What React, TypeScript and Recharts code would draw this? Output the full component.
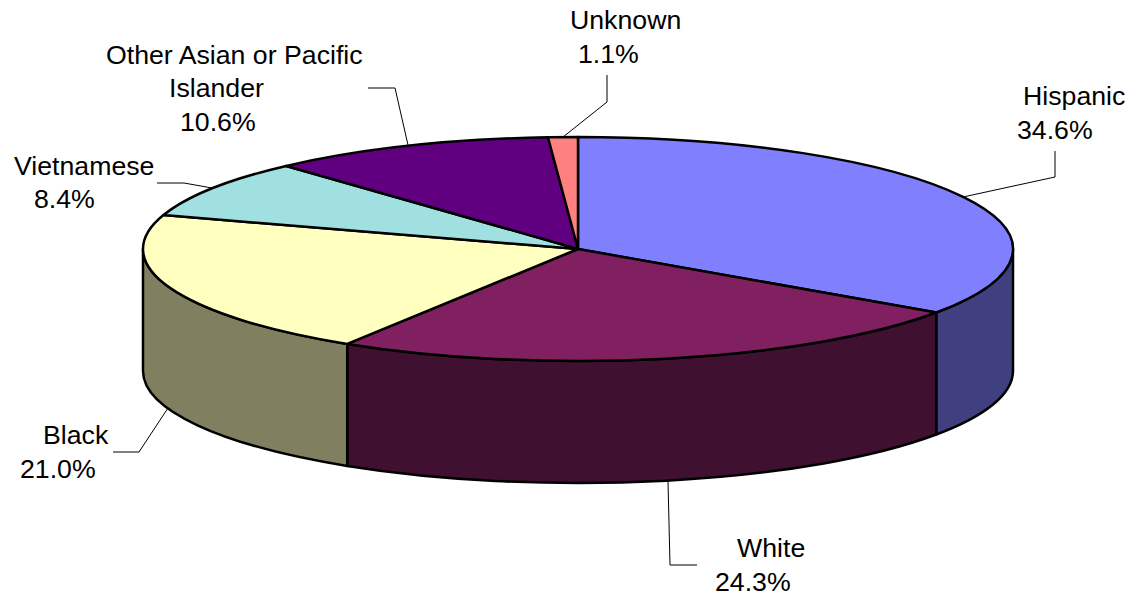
import React from "react";
import { PieChart, Pie } from "recharts";

const categories = ["Hispanic", "White", "Black", "Vietnamese", "Other Asian or Pacific Islander", "Unknown"];
const shares = [34.6, 24.3, 21.0, 8.4, 10.6, 1.1];
const topColors = ["#8080FF", "#802060", "#FFFFC0", "#A0E0E0", "#600080", "#FF8080"];
const sideColors = ["#404080", "#401030", "#808060", "#507070", "#300040", "#804040"];

const labelLines = [
  ["Hispanic", "34.6%"],
  ["White", "24.3%"],
  ["Black", "21.0%"],
  ["Vietnamese", "8.4%"],
  ["Other Asian or Pacific", "Islander", "10.6%"],
  ["Unknown", "1.1%"],
];
const labelAnchors = [
  [[1023, 105], [1017, 139]],
  [[737, 557], [715, 591]],
  [[43, 444], [20, 478]],
  [[14, 175], [34, 208]],
  [[106, 64], [169, 97], [180, 131]],
  [[570, 29], [578, 63]],
];
const leaders = [
  "963,197 1055,177 1055,151",
  "668,481 670,565 697,565",
  "168,408 139,452 113,452",
  "157,183 184,183 212,188",
  "368,88 395,88 408,145",
  "563,137 607,102 607,75",
];

const WIDTH = 1134;
const HEIGHT = 597;
const CX = 578;
const CY = 249;
const RX = 435;
const RY = 112;
const DEPTH = 122;
const FONT = "'Liberation Sans', Arial, sans-serif";
const FONT_SIZE = 26.7;

const chartData = categories.map((name, i) => ({ name, value: shares[i] }));

const pt = (deg: number, dy = 0) => {
  const a = (deg * Math.PI) / 180;
  return `${CX + RX * Math.cos(a)} ${CY - RY * Math.sin(a) + dy}`;
};

function Slice3D(props: any) {
  const { startAngle, endAngle, index } = props;
  const large = Math.abs(startAngle - endAngle) > 180 ? 1 : 0;
  const top = `M ${CX} ${CY} L ${pt(startAngle)} A ${RX} ${RY} 0 ${large} 1 ${pt(endAngle)} Z`;
  const a0 = Math.min(startAngle, 0);
  const a1 = Math.max(endAngle, -180);
  const wall =
    a0 > a1
      ? `M ${pt(a0)} A ${RX} ${RY} 0 0 1 ${pt(a1)} L ${pt(a1, DEPTH)} A ${RX} ${RY} 0 0 0 ${pt(a0, DEPTH)} Z`
      : null;
  return (
    <g>
      {wall && <path d={wall} fill={sideColors[index]} stroke="#000" strokeWidth={2.5} strokeLinejoin="round" />}
      <path d={top} fill={topColors[index]} stroke="#000" strokeWidth={2.5} strokeLinejoin="round" />
    </g>
  );
}

function SliceLabel(props: any) {
  const { index } = props;
  return (
    <g>
      <polyline points={leaders[index]} fill="none" stroke="#000" strokeWidth={1} />
      {labelLines[index].map((line, i) => (
        <text
          key={line}
          x={labelAnchors[index][i][0]}
          y={labelAnchors[index][i][1]}
          fontFamily={FONT}
          fontSize={FONT_SIZE}
          fill="#000"
          textAnchor="start"
        >
          {line}
        </text>
      ))}
    </g>
  );
}

export default function App() {
  return (
    <div style={{ position: "absolute", left: 0, top: 0, width: WIDTH, height: HEIGHT, background: "#fff" }}>
      <PieChart width={WIDTH} height={HEIGHT} margin={{ top: 0, right: 0, bottom: 0, left: 0 }}>
        <Pie
          data={chartData}
          dataKey="value"
          nameKey="name"
          cx={CX}
          cy={CY}
          innerRadius={0}
          outerRadius={RX}
          startAngle={90}
          endAngle={-270}
          paddingAngle={0}
          isAnimationActive={false}
          shape={Slice3D}
          label={SliceLabel}
          labelLine={false}
        />
      </PieChart>
    </div>
  );
}
